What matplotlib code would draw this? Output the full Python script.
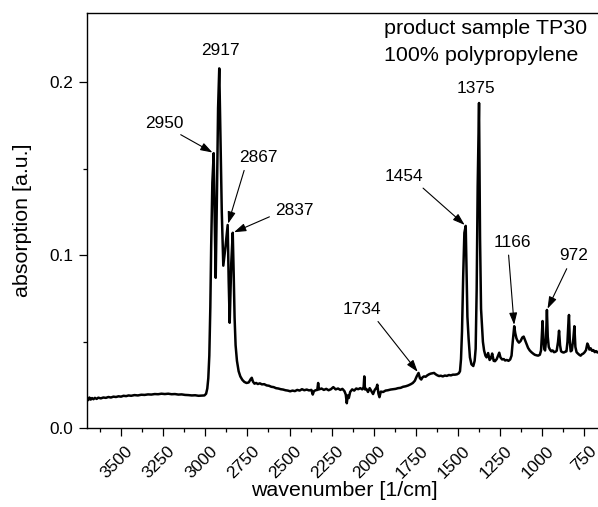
import numpy as np
import matplotlib
matplotlib.use("Agg")
import matplotlib.pyplot as plt
from matplotlib.ticker import MultipleLocator, FormatStrFormatter
from matplotlib.transforms import ScaledTranslation

plt.rcParams['font.family'] = ['Liberation Sans', 'DejaVu Sans']

# FTIR absorption spectrum of product sample TP30 (polypropylene)
wavenumber = [
    3702, 3695, 3688, 3680, 3672, 3664, 3655, 3645, 3635, 3620, 3605, 3590,
    3575, 3560, 3545, 3530, 3515, 3500, 3485, 3470, 3455, 3440, 3420, 3400,
    3380, 3360, 3340, 3320, 3300, 3280, 3260, 3240, 3220, 3200, 3180, 3160,
    3140, 3120, 3100, 3080, 3060, 3040, 3020, 3005, 2995, 2988, 2982, 2976,
    2970, 2965, 2958, 2950, 2944, 2938, 2930, 2924, 2917, 2910, 2902, 2893,
    2880, 2867, 2861, 2855, 2846, 2837, 2831, 2826, 2820, 2812, 2802, 2792,
    2780, 2768, 2755, 2742, 2730, 2724, 2717, 2708, 2698, 2688, 2676, 2664,
    2650, 2636, 2622, 2608, 2594, 2580, 2566, 2552, 2538, 2524, 2510, 2496,
    2482, 2468, 2454, 2440, 2426, 2412, 2398, 2384, 2370, 2362, 2355, 2345,
    2335, 2330, 2325, 2310, 2296, 2282, 2268, 2254, 2240, 2226, 2212, 2198,
    2186, 2174, 2166, 2160, 2154, 2148, 2140, 2128, 2116, 2104, 2092, 2080,
    2068, 2060, 2056, 2052, 2044, 2034, 2024, 2014, 2004, 1994, 1984, 1979,
    1972, 1966, 1958, 1944, 1930, 1916, 1900, 1886, 1870, 1856, 1840, 1826,
    1810, 1795, 1780, 1768, 1756, 1745, 1734, 1726, 1718, 1710, 1702, 1692,
    1682, 1672, 1662, 1652, 1642, 1632, 1622, 1612, 1602, 1590, 1578, 1566,
    1554, 1542, 1530, 1518, 1506, 1495, 1488, 1482, 1476, 1469, 1462, 1454,
    1449, 1444, 1437, 1429, 1420, 1409, 1401, 1395, 1389, 1383, 1375, 1369,
    1363, 1358, 1352, 1345, 1337, 1330, 1321, 1312, 1304, 1297, 1288, 1280,
    1270, 1262, 1255, 1248, 1238, 1228, 1220, 1210, 1200, 1190, 1182, 1175,
    1166, 1160, 1153, 1146, 1138, 1128, 1118, 1110, 1102, 1094, 1084, 1074,
    1064, 1054, 1044, 1034, 1024, 1014, 1007, 1003, 998, 993, 988, 983,
    978, 972, 967, 961, 954, 946, 938, 930, 922, 914, 906, 900,
    894, 888, 880, 872, 864, 856, 850, 845, 841, 836, 831, 824,
    815, 809, 803, 796, 788, 780, 772, 764, 756, 748, 740, 732,
    726, 720, 712, 704, 696, 688, 680, 672, 664, 656, 648,
]
absorption = [
    0.0172, 0.0163, 0.0178, 0.0166, 0.0175, 0.0168, 0.0176, 0.0170, 0.0177, 0.0173, 0.0178, 0.0176,
    0.0181, 0.0178, 0.0183, 0.0181, 0.0185, 0.0183, 0.0188, 0.0186, 0.0190, 0.0188, 0.0192, 0.0190,
    0.0194, 0.0193, 0.0196, 0.0195, 0.0198, 0.0197, 0.0200, 0.0198, 0.0200, 0.0197, 0.0198, 0.0195,
    0.0196, 0.0193, 0.0192, 0.0190, 0.0191, 0.0188, 0.0189, 0.0190, 0.0200, 0.0230, 0.0290, 0.0420,
    0.0700, 0.1050, 0.1420, 0.1590, 0.1200, 0.0870, 0.1400, 0.1850, 0.2080, 0.1700, 0.1250, 0.0940,
    0.1050, 0.1175, 0.0850, 0.0610, 0.0950, 0.1130, 0.0880, 0.0640, 0.0480, 0.0390, 0.0330, 0.0300,
    0.0280, 0.0268, 0.0262, 0.0265, 0.0285, 0.0292, 0.0270, 0.0258, 0.0262, 0.0256, 0.0260, 0.0254,
    0.0255, 0.0248, 0.0246, 0.0240, 0.0238, 0.0232, 0.0230, 0.0226, 0.0224, 0.0220, 0.0218, 0.0214,
    0.0218, 0.0215, 0.0222, 0.0218, 0.0226, 0.0220, 0.0224, 0.0219, 0.0222, 0.0195, 0.0215, 0.0220,
    0.0222, 0.0262, 0.0225, 0.0230, 0.0222, 0.0228, 0.0220, 0.0226, 0.0238, 0.0225, 0.0230, 0.0222,
    0.0228, 0.0215, 0.0195, 0.0145, 0.0190, 0.0175, 0.0210, 0.0225, 0.0218, 0.0230, 0.0226, 0.0232,
    0.0225, 0.0238, 0.0300, 0.0225, 0.0228, 0.0210, 0.0232, 0.0215, 0.0198, 0.0222, 0.0235, 0.0252,
    0.0200, 0.0180, 0.0212, 0.0210, 0.0218, 0.0220, 0.0224, 0.0226, 0.0228, 0.0232, 0.0234, 0.0240,
    0.0243, 0.0248, 0.0255, 0.0262, 0.0275, 0.0300, 0.0320, 0.0290, 0.0282, 0.0295, 0.0300, 0.0298,
    0.0306, 0.0312, 0.0316, 0.0318, 0.0320, 0.0312, 0.0306, 0.0302, 0.0304, 0.0300, 0.0305, 0.0303,
    0.0308, 0.0306, 0.0310, 0.0310, 0.0312, 0.0318, 0.0330, 0.0400, 0.0560, 0.0880, 0.1130, 0.1170,
    0.0900, 0.0645, 0.0520, 0.0410, 0.0370, 0.0360, 0.0390, 0.0460, 0.0800, 0.1400, 0.1880, 0.1100,
    0.0690, 0.0600, 0.0500, 0.0450, 0.0420, 0.0410, 0.0435, 0.0395, 0.0405, 0.0432, 0.0390, 0.0388,
    0.0400, 0.0420, 0.0437, 0.0410, 0.0398, 0.0400, 0.0392, 0.0395, 0.0390, 0.0398, 0.0420, 0.0500,
    0.0590, 0.0550, 0.0520, 0.0505, 0.0495, 0.0505, 0.0525, 0.0530, 0.0510, 0.0490, 0.0465, 0.0450,
    0.0440, 0.0432, 0.0425, 0.0422, 0.0420, 0.0425, 0.0450, 0.0520, 0.0620, 0.0520, 0.0460, 0.0450,
    0.0500, 0.0684, 0.0530, 0.0470, 0.0455, 0.0445, 0.0450, 0.0440, 0.0442, 0.0448, 0.0500, 0.0564,
    0.0480, 0.0445, 0.0440, 0.0438, 0.0442, 0.0445, 0.0500, 0.0600, 0.0655, 0.0500, 0.0445, 0.0450,
    0.0520, 0.0590, 0.0470, 0.0440, 0.0432, 0.0425, 0.0420, 0.0428, 0.0432, 0.0440, 0.0452, 0.0490,
    0.0478, 0.0455, 0.0462, 0.0448, 0.0452, 0.0440, 0.0446, 0.0438, 0.0444, 0.0440, 0.0443,
]

# Labelled bands
peak_labels = ["2950", "2917", "2867", "2837", "1734", "1454", "1375", "1166", "972"]
peak_wn = [2950, 2917, 2867, 2837, 1734, 1454, 1375, 1166, 972]

x_ticks = [3500, 3250, 3000, 2750, 2500, 2250, 2000, 1750, 1500, 1250, 1000, 750]
y_ticks = [0.0, 0.1, 0.2]

fig = plt.figure(figsize=(5.98, 5.07), dpi=100)
ax = fig.add_axes([0.1455, 0.1552, 0.8612, 0.8191])

ax.plot(wavenumber, absorption, color='black', lw=1.8, solid_joinstyle='round')

ax.set_xlim(3702, 645)
ax.set_ylim(0, 0.240)

ax.set_xticks(x_ticks)
ax.xaxis.set_minor_locator(MultipleLocator(125))
ax.set_yticks(y_ticks)
ax.yaxis.set_minor_locator(MultipleLocator(0.05))
ax.yaxis.set_major_formatter(FormatStrFormatter('%.1f'))

ax.tick_params(which='major', direction='out', length=5.8, width=0.9, labelsize=12.4)
ax.tick_params(which='minor', direction='out', length=3.0, width=0.9)
ax.tick_params(axis='x', which='major', pad=5.0)
ax.tick_params(axis='y', which='major', pad=4)
ax.tick_params(top=False, right=False, which='both')
for sp in ax.spines.values():
    sp.set_linewidth(1.0)

shift = ScaledTranslation(3 / 72, 0, fig.dpi_scale_trans)
for lbl in ax.get_xticklabels():
    lbl.set_rotation(45)
    lbl.set_rotation_mode('anchor')
    lbl.set_ha('right')
    lbl.set_va('top')
    lbl.set_transform(lbl.get_transform() + shift)

ax.set_xlabel("wavenumber [1/cm]", fontsize=15.4)
ax.set_ylabel("absorption [a.u.]", fontsize=15.4)
ax.xaxis.set_label_coords(0.5, -0.127)
ax.yaxis.set_label_coords(-0.107, 0.5)

ax.text(0.5767, 0.9494, "product sample TP30", transform=ax.transAxes,
        fontsize=15.4, ha='left', va='baseline')
ax.text(0.5767, 0.8844, "100% polypropylene", transform=ax.transAxes,
        fontsize=15.4, ha='left', va='baseline')

# text offsets (points) and arrow start positions on the label box
label_offsets = {
    "2950": (-35.4, 21.7, (0.73, 0.0)),
    "2917": (0.6, 12.6, None),
    "2867": (21.9, 48.6, (0.18, 0.0)),
    "2837": (44.1, 16.4, (0.0, 0.2)),
    "1734": (-40.9, 46.0, (0.82, 0.0)),
    "1454": (-44.2, 35.9, (0.85, 0.0)),
    "1375": (-2.2, 10.5, None),
    "1166": (-1.4, 60.6, (0.39, 0.0)),
    "972": (19.0, 38.9, (0.36, 0.0)),
}

for lab, wn in zip(peak_labels, peak_wn):
    val = absorption[wavenumber.index(wn)]
    dx, dy, rel = label_offsets[lab]
    if rel is None:
        ax.annotate(lab, xy=(wn, val), xytext=(dx, dy), textcoords='offset points',
                    ha='center', va='center', fontsize=12.4)
    else:
        ax.annotate(lab, xy=(wn, val), xytext=(dx, dy), textcoords='offset points',
                    ha='center', va='center', fontsize=12.4,
                    arrowprops=dict(arrowstyle='-|>,head_length=0.6,head_width=0.2',
                                    mutation_scale=12, color='black', lw=0.8,
                                    relpos=rel, shrinkA=2, shrinkB=1))

fig.savefig("out.png", dpi=100)
